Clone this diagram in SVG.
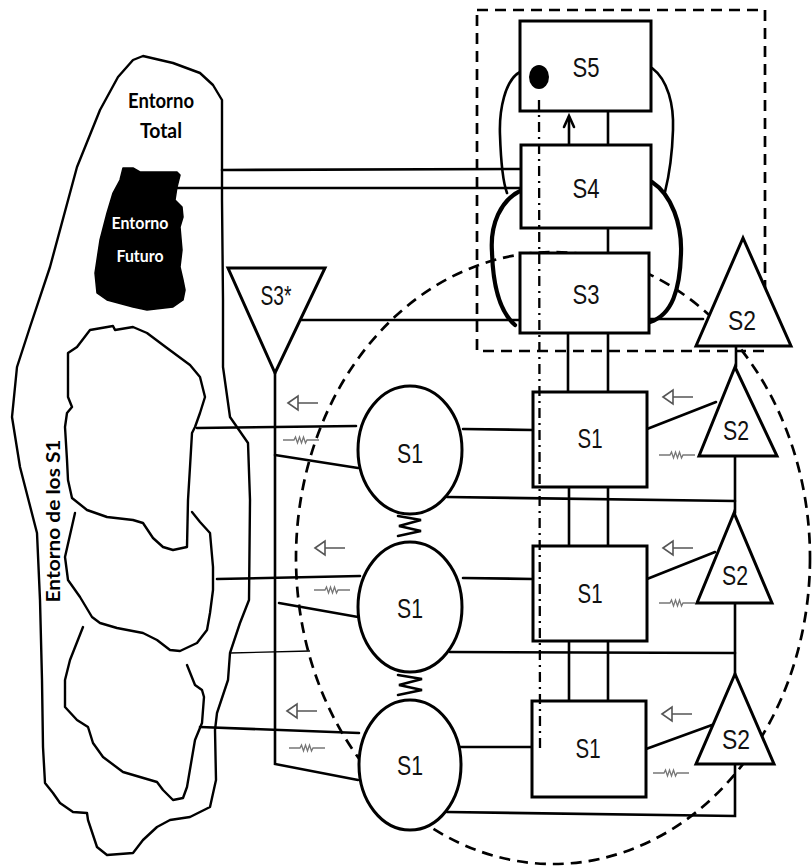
<svg xmlns="http://www.w3.org/2000/svg" width="812" height="867" viewBox="0 0 812 867">
<defs>
<style>
.ln{stroke:#000;stroke-width:2.6;fill:none;stroke-linecap:round}
.thin{stroke:#000;stroke-width:1.4;fill:none}
.thick{stroke:#000;stroke-width:4.2;fill:none;stroke-linecap:round}
.box{fill:#fff;stroke:#000;stroke-width:3}
.env{fill:none;stroke:#000;stroke-width:2.4;stroke-linejoin:round;stroke-linecap:round}
.lbl{font-family:"Liberation Sans",Arial,sans-serif;font-size:27px;fill:#111;text-anchor:middle}
.envt{font-family:Lato,"Open Sans",sans-serif;font-weight:bold;text-anchor:middle}
.gray{stroke:#555;fill:none;stroke-width:1.6}
.res{stroke:#777;fill:none;stroke-width:1.3}
.dash{stroke:#000;stroke-width:2.7;fill:none;stroke-dasharray:11 7}
.dotdash{stroke:#000;stroke-width:2.3;fill:none;stroke-dasharray:10 5 2 5}
</style>
<path id="harrow" d="M0,0 L10,-7 L10,7 Z M10,0 H30"/>
<path id="res" d="M0,0 H11 L12.5,-3 L14.5,3 L16.5,-3 L18.5,3 L20.5,-3 L22.5,3 L24,0 H36"/>
</defs>
<rect width="812" height="867" fill="#fff"/>

<g id="entorno-total">
<path class="env" d="M143,56 L173,63 L200,73 L213,85 L222,100 L222,200 L223,300 L223,367 L230,417 L248,443 L250,500 L249,600 L240,623 L230,653 L228,680 L217,713 L215,730 L216,780 L210,807 L190,817 L170,820 L157,827 L143,840 L133,853 L107,855 L97,847 L88,820 L87,813 L73,812 L60,803 L53,793 L45,783 L43,747 L42,680 L40,600 L37,533 L20,467 L12,417 L17,367 L30,327 L50,267 L77,167 L100,110 L118,77 L133,60 Z"/>
<text class="envt" x="161" y="108" font-size="21" textLength="66" lengthAdjust="spacingAndGlyphs">Entorno</text>
<text class="envt" x="161" y="138" font-size="21" textLength="42" lengthAdjust="spacingAndGlyphs">Total</text>
</g>

<g id="entorno-futuro">
<path fill="#000" stroke="#000" stroke-width="1.5" stroke-linejoin="round" d="M123,168 L133,168 L140,172 L157,172 L177,172 L180,175 L177,187 L175,200 L182,207 L183,217 L180,227 L182,250 L180,267 L183,280 L185,290 L183,300 L173,307 L147,310 L133,307 L107,300 L97,293 L95,273 L100,240 L107,213 L113,193 L120,180 Z"/>
<text class="envt" x="140" y="229" font-size="17" fill="#fff" textLength="57" lengthAdjust="spacingAndGlyphs">Entorno</text>
<text class="envt" x="140" y="262" font-size="17" fill="#fff" textLength="47" lengthAdjust="spacingAndGlyphs">Futuro</text>
</g>

<g id="entorno-s1">
<path class="env" d="M90,330 L113,326 L115,330 L133,327 L147,333 L167,348 L190,365 L200,377 L205,397 L200,413 L195,427 L192,433 L190,467 L188,500 L187,547 L173,550 L163,547 L153,538 L143,523 L133,520 L107,517 L87,510 L72,498 L68,480 L67,460 L65,427 L67,413 L72,407 L68,397 L68,353 L77,347 Z"/>
<path class="env" d="M192,512 L200,522 L210,533 L213,567 L213,590 L210,613 L207,630 L197,643 L180,651 L170,650 L157,640 L143,633 L117,628 L100,623 L92,617 L80,597 L68,580 L65,557 L75,513"/>
<path class="env" d="M187,665 L195,685 L202,690 L204,697 L202,723 L195,740 L187,787 L183,798 L173,800 L163,790 L157,782 L140,777 L123,772 L103,757 L93,743 L88,727 L77,720 L65,707 L65,680 L70,660 L83,627"/>
<text class="envt" transform="translate(60,521) rotate(-90)" x="0" y="0" font-size="18" textLength="163" lengthAdjust="spacingAndGlyphs">Entorno de los S1</text>
</g>

<g id="limites">
<ellipse class="dash" cx="553" cy="558" rx="257" ry="306"/>
<rect class="dash" x="477" y="10" width="288" height="341" stroke-dasharray="9 6"/>
</g>

<g id="connectors">
<line class="ln" x1="222" y1="170" x2="521" y2="169"/>
<line class="ln" x1="177" y1="188" x2="521" y2="188"/>
<line class="ln" x1="300" y1="320" x2="520" y2="320"/>
<line class="ln" x1="650" y1="319" x2="703" y2="319"/>
<line class="ln" x1="608" y1="111" x2="608" y2="145"/>
<line class="ln" x1="608" y1="228" x2="608" y2="253"/>
<line class="ln" x1="569" y1="145" x2="569" y2="117"/>
<polyline class="ln" points="564,127 569,116 574,127"/>
<path class="ln" stroke-width="2.2" d="M520,72 C505,80 499,110 500,135 C501,165 504,185 507,193"/>
<path class="ln" stroke-width="2.2" d="M652,68 C668,80 674,105 673,130 C672,160 668,180 665,192"/>
<path class="thick" d="M522,190 C500,200 490,225 492,252 C493,287 500,312 515,325"/>
<path class="thick" d="M652,182 C672,195 682,225 681,253 C680,290 672,315 650,322"/>
<line class="ln" x1="568" y1="333" x2="568" y2="392"/>
<line class="ln" x1="608" y1="333" x2="608" y2="392"/>
<line class="ln" x1="569" y1="487" x2="569" y2="546"/>
<line class="ln" x1="608" y1="487" x2="608" y2="546"/>
<line class="ln" x1="569" y1="641" x2="569" y2="701"/>
<line class="ln" x1="608" y1="641" x2="608" y2="701"/>
<line class="ln" x1="736" y1="346" x2="736" y2="367"/>
<line class="ln" x1="735" y1="456" x2="735" y2="513"/>
<line class="ln" x1="735" y1="603" x2="735" y2="674"/>
<polyline class="ln" points="735,764 735,816 447,812"/>
<line class="ln" x1="447" y1="497" x2="735" y2="501"/>
<line class="ln" x1="450" y1="652" x2="735" y2="653"/>
<line class="ln" x1="463" y1="429" x2="533" y2="430"/>
<line class="ln" x1="463" y1="578" x2="533" y2="579"/>
<line class="ln" x1="459" y1="747" x2="532" y2="747"/>
<line class="ln" x1="647" y1="429" x2="716" y2="402"/>
<line class="ln" x1="647" y1="579" x2="715" y2="552"/>
<line class="ln" x1="646" y1="749" x2="712" y2="725"/>
<line class="ln" x1="197" y1="428" x2="356" y2="426"/>
<line class="ln" x1="217" y1="579" x2="360" y2="576"/>
<line class="ln" x1="200" y1="727" x2="359" y2="733"/>
<line class="thin" x1="230" y1="653" x2="310" y2="651"/>
<polyline class="ln" points="275,373 275,764 358,780"/>
<line class="ln" x1="275" y1="455" x2="358" y2="468"/>
<line class="ln" x1="279" y1="603" x2="358" y2="617"/>
<polyline class="ln" stroke-width="3.2" points="398,516 421,520 399,526 421,531 398,536"/>
<polyline class="ln" stroke-width="3.2" points="398,675 422,679 399,685 422,690 398,695"/>
<use href="#harrow" class="gray" transform="translate(288,403)"/>
<use href="#harrow" class="gray" transform="translate(315,548)"/>
<use href="#harrow" class="gray" transform="translate(287,711)"/>
<use href="#harrow" class="gray" transform="translate(663,397)"/>
<use href="#harrow" class="gray" transform="translate(663,548)"/>
<use href="#harrow" class="gray" transform="translate(662,714)"/>
<use href="#res" class="res" transform="translate(283,440)"/>
<use href="#res" class="res" transform="translate(314,590)"/>
<use href="#res" class="res" transform="translate(289,748)"/>
<use href="#res" class="res" transform="translate(659,455)"/>
<use href="#res" class="res" transform="translate(659,603)"/>
<use href="#res" class="res" transform="translate(653,773)"/>
</g>

<g id="S5"><rect class="box" x="520" y="21" width="131" height="90"/><text class="lbl" x="586" y="77" textLength="27" lengthAdjust="spacingAndGlyphs">S5</text></g>
<g id="S4"><rect class="box" x="521" y="145" width="130" height="83"/><text class="lbl" x="586" y="198" textLength="27" lengthAdjust="spacingAndGlyphs">S4</text></g>
<g id="S3"><rect class="box" x="520" y="253" width="129" height="80"/><text class="lbl" x="586" y="304" textLength="27" lengthAdjust="spacingAndGlyphs">S3</text></g>
<g id="S3star"><polygon class="box" points="228,268 325,268 275,373"/><text class="lbl" x="276" y="305" textLength="31" lengthAdjust="spacingAndGlyphs">S3*</text></g>
<g id="S2-top"><polygon class="box" points="743,238 696,346 791,346"/><text class="lbl" x="742" y="330" textLength="28" lengthAdjust="spacingAndGlyphs">S2</text></g>

<g id="S1-box-1"><rect class="box" x="533" y="392" width="114" height="95"/><text class="lbl" x="590" y="448" textLength="25" lengthAdjust="spacingAndGlyphs">S1</text></g>
<g id="S1-box-2"><rect class="box" x="533" y="546" width="114" height="95"/><text class="lbl" x="590" y="603" textLength="25" lengthAdjust="spacingAndGlyphs">S1</text></g>
<g id="S1-box-3"><rect class="box" x="532" y="701" width="114" height="96"/><text class="lbl" x="588" y="758" textLength="25" lengthAdjust="spacingAndGlyphs">S1</text></g>

<g id="S1-op-1"><ellipse class="box" cx="410" cy="450" rx="52" ry="64"/><text class="lbl" x="410" y="463" textLength="26" lengthAdjust="spacingAndGlyphs">S1</text></g>
<g id="S1-op-2"><ellipse class="box" cx="410" cy="607" rx="52" ry="65"/><text class="lbl" x="410" y="618" textLength="26" lengthAdjust="spacingAndGlyphs">S1</text></g>
<g id="S1-op-3"><ellipse class="box" cx="410" cy="765" rx="51" ry="65"/><text class="lbl" x="410" y="775" textLength="26" lengthAdjust="spacingAndGlyphs">S1</text></g>

<g id="S2-1"><polygon class="box" points="735,367 699,456 777,456"/><text class="lbl" x="736" y="440" textLength="26" lengthAdjust="spacingAndGlyphs">S2</text></g>
<g id="S2-2"><polygon class="box" points="734,513 697,603 772,603"/><text class="lbl" x="735" y="585" textLength="26" lengthAdjust="spacingAndGlyphs">S2</text></g>
<g id="S2-3"><polygon class="box" points="735,674 696,764 774,764"/><text class="lbl" x="736" y="749" textLength="28" lengthAdjust="spacingAndGlyphs">S2</text></g>

<g id="audit">
<line class="dotdash" x1="539" y1="100" x2="540" y2="748"/>
<ellipse cx="539" cy="77" rx="10" ry="12" fill="#000"/>
</g>
</svg>
